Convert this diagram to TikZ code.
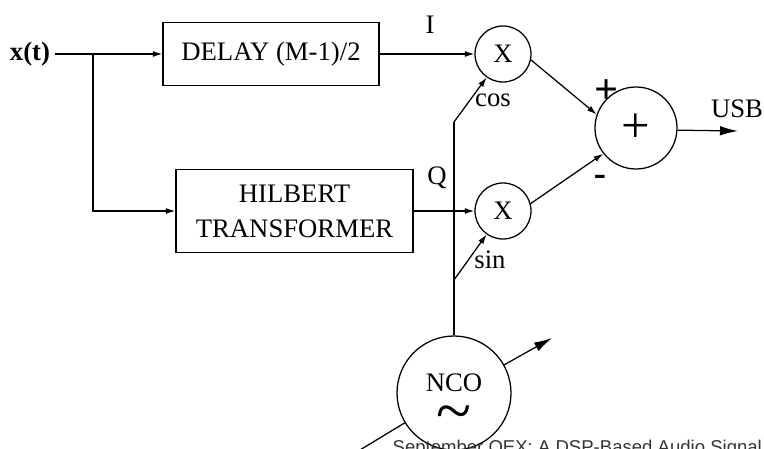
\documentclass[tikz,border=0pt]{standalone}
\usepackage{fontspec}
\setmainfont{Liberation Serif}
\newfontfamily\captionfont{Liberation Sans}
\usetikzlibrary{arrows.meta}

\tikzset{
  bloc/.style={draw, line width=0.9pt, align=center, inner sep=0pt},
  mult/.style={draw, circle, line width=0.9pt, minimum size=1.4cm, inner sep=0pt},
  petite/.style={-{Latex[length=2.4mm,width=1.5mm]}},
  grande/.style={-{Latex[length=4.5mm,width=2.4mm]}}
}

\begin{document}
\begin{tikzpicture}[line width=0.9pt, font=\fontsize{19}{25}\selectfont]

\clip (0,0) rectangle (19.1,11.225);

% Entree
\node (xt) at (0.75,9.875) {\bfseries x(t)};
\coordinate (split) at (2.325,9.875);

% Retard et Hilbert
\node[bloc, minimum width=5.4cm, minimum height=1.575cm] (delay) at (6.775,9.875) {DELAY (M-1)/2};
\node[bloc, minimum width=5.925cm, minimum height=2.075cm] (hilbert) at (7.3625,5.95) {HILBERT\\TRANSFORMER};

\draw (xt) -- (split);
\draw[petite] (split) -- (delay);
\draw[petite] (split) |- (hilbert);

% Multiplieurs
\node[mult] (mulI) at (12.575,9.875) {X};
\node[mult] (mulQ) at (12.575,5.95) {X};

\draw[petite] (delay) -- (mulI);
\draw[petite] (hilbert) -- (mulQ);

\node (labI) at (10.75,10.6) {I};
\node (labQ) at (10.925,6.775) {Q};

% Sommateur
\node[mult, minimum size=2.05cm, font=\fontsize{36}{36}\selectfont] (sum) at (15.9,8.025) {+};
\coordinate (out) at (18.45,7.95);

\draw[petite] (mulI.-12) -- (sum.161);
\draw[petite] (mulQ.15) -- (sum.218);
\draw[grande] (sum.-3) -- (out);

\node[font=\fontsize{30}{30}\bfseries] (plus) at (15.175,8.925) {+};
\node[font=\fontsize{26}{26}\bfseries] (minus) at (15.0,6.725) {-};
\node (usb) at (18.425,8.5) {USB};

% NCO
\node[mult, minimum size=2.85cm] (nco) at (11.35,1.4) {};
\node (ncotext) at (11.35,1.6625) {NCO};
\node[font=\fontsize{46}{46}\selectfont, inner sep=0pt] (tilde) at (11.35,0.75) {\textasciitilde};

\coordinate (coskink) at (11.35,8.175);
\coordinate (sinkink) at (11.35,4.225);

\draw (nco) -- (coskink);
\draw[petite] (coskink) -- (mulI.235);
\draw[petite] (sinkink) -- (mulQ.235);

\node (cos) at (12.325,8.725) {cos};
\node (sin) at (12.25,4.725) {sin};

\coordinate (tunein) at (8.875,-0.1);
\coordinate (tuneout) at (13.8,2.775);
\draw (tunein) -- (nco);
\draw[grande] (nco) -- (tuneout);

% Legende
\node[font=\captionfont\fontsize{13.2}{15}\selectfont, text=black!80, anchor=base west, inner sep=0pt] (caption) at (9.8,-0.125) {September QEX: A DSP-Based Audio Signal};

\end{tikzpicture}
\end{document}
